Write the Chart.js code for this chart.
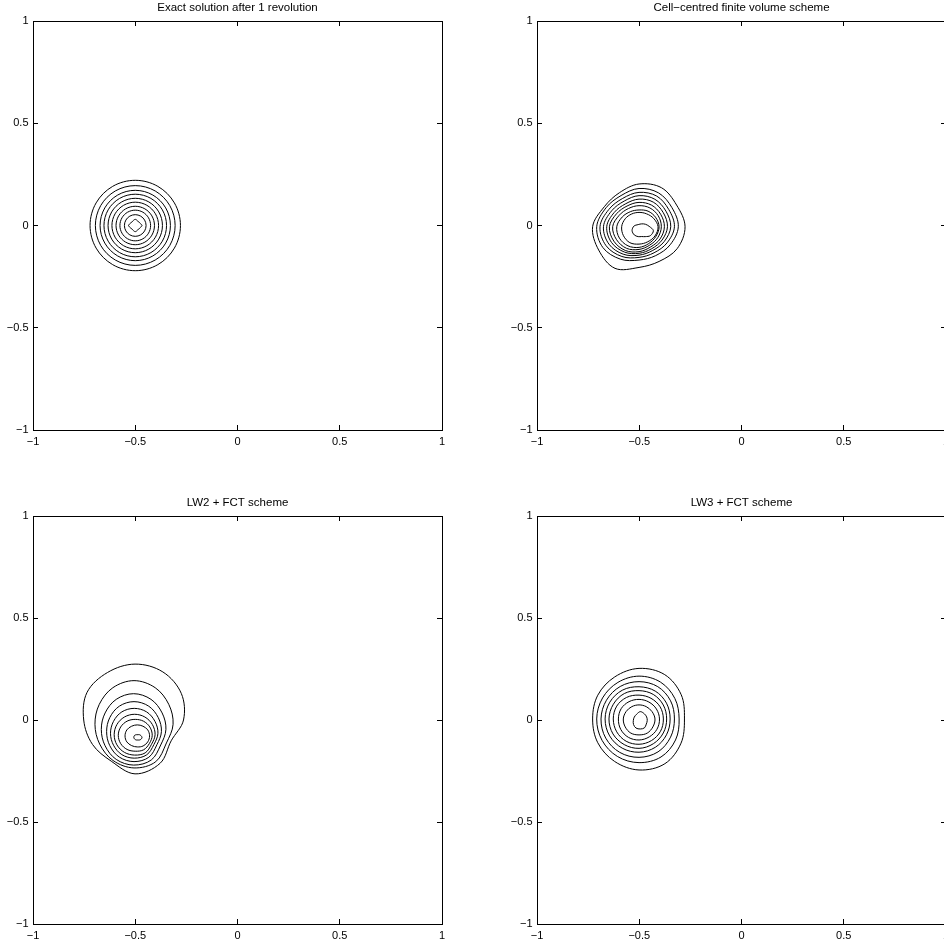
<!DOCTYPE html>
<html lang="en">
<head>
  <meta charset="UTF-8">
  <title>Rotating cone – contour comparison</title>
  <script src="https://cdn.jsdelivr.net/npm/chart.js"></script>
  <style>
    html, body {
      margin: 0;
      background: #fff;
      overflow: hidden;
    }
    body {
      position: relative;
      width: 944px;
      height: 945px;
    }
    canvas { position: absolute; }
    #c1 { left: 0; top: 0; }
    #c2 { left: 504px; top: 0; }
    #c3 { left: 0; top: 495px; }
    #c4 { left: 504px; top: 495px; }
  </style>
</head>
<body>
  <canvas id="c1" width="472" height="472"></canvas>
  <canvas id="c2" width="472" height="472"></canvas>
  <canvas id="c3" width="472" height="472"></canvas>
  <canvas id="c4" width="472" height="472"></canvas>

  <script>
    // every contour: a centre plus its radius read at each of these angles (deg)
    const angles = [0, 30, 60, 90, 120, 150, 180, 210, 240, 270, 300, 330];

    const tickValues = [-1, -0.5, 0, 0.5, 1];
    const tickLabels = ['−1', '−0.5', '0', '0.5', '1'];

    const titles = [
      'Exact solution after 1 revolution',
      'Cell−centred finite volume scheme',
      'LW2 + FCT scheme',
      'LW3 + FCT scheme'
    ];

    // Exact solution
    const exactCentres = [
      [-0.5, 0], [-0.5, 0], [-0.5, 0], [-0.5, 0], [-0.5, 0],
      [-0.5, 0], [-0.5, 0], [-0.5, 0], [-0.5, 0], [-0.5, 0]
    ];
    const exactRadii = [
      [0.221, 0.221, 0.221, 0.221, 0.221, 0.221, 0.221, 0.221, 0.221, 0.221, 0.221, 0.221],
      [0.195, 0.195, 0.195, 0.195, 0.195, 0.195, 0.195, 0.195, 0.195, 0.195, 0.195, 0.195],
      [0.172, 0.172, 0.172, 0.172, 0.172, 0.172, 0.172, 0.172, 0.172, 0.172, 0.172, 0.172],
      [0.153, 0.153, 0.153, 0.153, 0.153, 0.153, 0.153, 0.153, 0.153, 0.153, 0.153, 0.153],
      [0.133, 0.133, 0.133, 0.133, 0.133, 0.133, 0.133, 0.133, 0.133, 0.133, 0.133, 0.133],
      [0.114, 0.114, 0.114, 0.114, 0.114, 0.114, 0.114, 0.114, 0.114, 0.114, 0.114, 0.114],
      [0.094, 0.094, 0.094, 0.094, 0.094, 0.094, 0.094, 0.094, 0.094, 0.094, 0.094, 0.094],
      [0.075, 0.075, 0.075, 0.075, 0.075, 0.075, 0.075, 0.075, 0.075, 0.075, 0.075, 0.075],
      [0.053, 0.053, 0.053, 0.053, 0.053, 0.053, 0.053, 0.053, 0.053, 0.053, 0.053, 0.053],
      [0.033, 0.025, 0.025, 0.030, 0.025, 0.025, 0.033, 0.025, 0.025, 0.030, 0.025, 0.025]
    ];

    // Cell-centred finite volume
    const fvCentres = [
      [-0.501, -0.006], [-0.501, -0.006], [-0.501, -0.006], [-0.501, -0.006], [-0.501, -0.006],
      [-0.501, -0.006], [-0.501, -0.006], [-0.501, -0.006], [-0.501, -0.006], [-0.488, -0.025]
    ];
    const fvRadii = [
      [0.225, 0.212, 0.220, 0.209, 0.192, 0.196, 0.227, 0.228, 0.235, 0.199, 0.196, 0.215],
      [0.192, 0.186, 0.191, 0.187, 0.176, 0.186, 0.207, 0.204, 0.183, 0.163, 0.163, 0.176],
      [0.173, 0.168, 0.173, 0.168, 0.160, 0.170, 0.191, 0.186, 0.168, 0.150, 0.147, 0.158],
      [0.155, 0.152, 0.155, 0.152, 0.145, 0.155, 0.174, 0.170, 0.155, 0.139, 0.134, 0.143],
      [0.139, 0.137, 0.139, 0.135, 0.130, 0.140, 0.158, 0.155, 0.143, 0.130, 0.124, 0.130],
      [0.124, 0.122, 0.122, 0.119, 0.117, 0.127, 0.145, 0.142, 0.134, 0.122, 0.114, 0.119],
      [0.109, 0.108, 0.106, 0.103, 0.103, 0.112, 0.129, 0.127, 0.122, 0.111, 0.104, 0.106],
      [0.098, 0.093, 0.088, 0.082, 0.085, 0.095, 0.109, 0.111, 0.108, 0.101, 0.095, 0.095],
      [0.093, 0.082, 0.073, 0.070, 0.072, 0.078, 0.085, 0.088, 0.090, 0.085, 0.085, 0.090],
      [0.057, 0.042, 0.036, 0.033, 0.034, 0.044, 0.047, 0.042, 0.034, 0.029, 0.034, 0.049]
    ];

    // LW2 + FCT
    const lw2Centres = [
      [-0.501, 0], [-0.506, -0.021], [-0.508, -0.046], [-0.506, -0.057], [-0.505, -0.065],
      [-0.503, -0.072], [-0.500, -0.075], [-0.490, -0.078], [-0.487, -0.085]
    ];
    const lw2Radii = [
      [0.237, 0.261, 0.272, 0.274, 0.269, 0.271, 0.251, 0.240, 0.233, 0.264, 0.245, 0.204],
      [0.191, 0.196, 0.207, 0.214, 0.207, 0.196, 0.191, 0.194, 0.205, 0.214, 0.212, 0.183],
      [0.158, 0.161, 0.170, 0.175, 0.170, 0.161, 0.158, 0.161, 0.170, 0.175, 0.173, 0.153],
      [0.134, 0.137, 0.144, 0.147, 0.144, 0.137, 0.134, 0.137, 0.144, 0.147, 0.145, 0.129],
      [0.116, 0.117, 0.121, 0.122, 0.121, 0.117, 0.116, 0.117, 0.121, 0.122, 0.122, 0.111],
      [0.100, 0.100, 0.100, 0.100, 0.100, 0.100, 0.100, 0.100, 0.100, 0.100, 0.103, 0.095],
      [0.083, 0.082, 0.080, 0.078, 0.080, 0.082, 0.083, 0.082, 0.080, 0.078, 0.082, 0.080],
      [0.060, 0.059, 0.055, 0.054, 0.055, 0.059, 0.060, 0.059, 0.055, 0.054, 0.057, 0.059],
      [0.020, 0.017, 0.015, 0.013, 0.015, 0.019, 0.020, 0.018, 0.015, 0.013, 0.015, 0.018]
    ];

    // LW3 + FCT
    const lw3Centres = [
      [-0.501, 0.005], [-0.501, 0.005], [-0.501, 0.005], [-0.501, 0.005], [-0.501, 0.005],
      [-0.501, 0.005], [-0.501, 0.005], [-0.501, 0.005], [-0.495, -0.003]
    ];
    const lw3Radii = [
      [0.222, 0.238, 0.251, 0.248, 0.238, 0.233, 0.227, 0.233, 0.240, 0.250, 0.253, 0.237],
      [0.196, 0.202, 0.209, 0.210, 0.207, 0.206, 0.207, 0.209, 0.212, 0.214, 0.215, 0.206],
      [0.173, 0.178, 0.183, 0.183, 0.184, 0.184, 0.186, 0.188, 0.189, 0.188, 0.186, 0.178],
      [0.152, 0.155, 0.158, 0.158, 0.163, 0.165, 0.166, 0.166, 0.165, 0.163, 0.160, 0.155],
      [0.135, 0.137, 0.139, 0.139, 0.144, 0.145, 0.147, 0.147, 0.145, 0.144, 0.140, 0.137],
      [0.119, 0.119, 0.117, 0.117, 0.122, 0.126, 0.126, 0.126, 0.126, 0.124, 0.122, 0.121],
      [0.100, 0.098, 0.096, 0.096, 0.098, 0.101, 0.101, 0.103, 0.104, 0.103, 0.101, 0.101],
      [0.078, 0.073, 0.070, 0.069, 0.070, 0.073, 0.077, 0.078, 0.080, 0.078, 0.080, 0.078],
      [0.034, 0.036, 0.039, 0.044, 0.036, 0.034, 0.034, 0.038, 0.042, 0.041, 0.041, 0.034]
    ];

    Chart.defaults.font.family = "'Liberation Sans', Arial, Helvetica, sans-serif";
    Chart.defaults.color = '#000';

    const tickFont = { size: 11 };

    function ringPoints(centre, radii) {
      const pts = angles.map((a, k) => {
        const t = a * Math.PI / 180;
        return { x: centre[0] + radii[k] * Math.cos(t), y: centre[1] + radii[k] * Math.sin(t) };
      });
      // wrap one point on each side so the spline closes without a kink
      return [pts[pts.length - 1], ...pts, pts[0], pts[1]];
    }

    function axis(position, showLabels, size, pad) {
      return {
        type: 'linear',
        position: position,
        min: -1,
        max: 1,
        border: { display: true, color: '#000', width: 1 },
        grid: { drawOnChartArea: false, drawTicks: true, tickLength: -5, color: '#000' },
        ticks: {
          display: showLabels,
          autoSkip: false,
          maxRotation: 0,
          padding: pad,
          color: '#000',
          font: tickFont,
          callback: v => tickLabels[tickValues.indexOf(v)]
        },
        afterBuildTicks: s => { s.ticks = tickValues.map(v => ({ value: v })); },
        afterFit: s => {
          if (s.isHorizontal()) s.height = size;
          else s.width = size;
        }
      };
    }

    function makePanel(canvasId, title, centres, radii, bottomPad) {
      const datasets = centres.map((c, i) => {
        const data = ringPoints(c, radii[i]);
        const last = data.length - 1;
        return {
          data: data,
          showLine: true,
          pointRadius: 0,
          borderColor: '#000',
          borderWidth: 1,
          tension: 0.35,
          segment: {
            borderColor: ctx => (ctx.p0DataIndex === 0 || ctx.p1DataIndex === last) ? 'rgba(0,0,0,0)' : undefined
          }
        };
      });

      return new Chart(document.getElementById(canvasId), {
        type: 'scatter',
        data: { datasets: datasets },
        options: {
          responsive: false,
          animation: false,
          events: [],
          layout: { padding: { left: 0, top: 0, right: 30, bottom: bottomPad } },
          plugins: {
            legend: { display: false },
            tooltip: { enabled: false },
            title: {
              display: true,
              text: title,
              color: '#000',
              fullSize: false,
              font: { size: 11.5, weight: 'normal', lineHeight: 1.2 },
              padding: { top: 1.3, bottom: 5.9 }
            }
          },
          scales: {
            x: axis('bottom', true, 30, 10),
            x2: axis('top', false, 0, 0),
            y: axis('left', true, 33, 9.5),
            y2: axis('right', false, 0, 0)
          }
        }
      });
    }

    makePanel('c1', titles[0], exactCentres, exactRadii, 12);
    makePanel('c2', titles[1], fvCentres, fvRadii, 12);
    makePanel('c3', titles[2], lw2Centres, lw2Radii, 13);
    makePanel('c4', titles[3], lw3Centres, lw3Radii, 13);
  </script>
</body>
</html>
